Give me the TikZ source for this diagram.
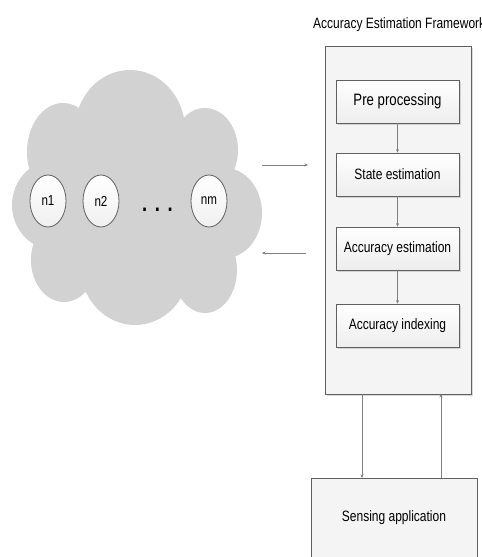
\documentclass[tikz,border=0pt]{standalone}
\usepackage{fontspec}
\setmainfont[FakeStretch=0.8]{Liberation Sans}
\usetikzlibrary{arrows.meta,shadows,shapes.geometric}
\definecolor{cloudgray}{HTML}{D2D2D2}
\definecolor{edgegray}{HTML}{606060}
\definecolor{linegray}{HTML}{808080}
\tikzset{
  stepbox/.style={draw=edgegray, line width=0.8pt, top color=white, bottom color=gray!14,
    minimum width=123pt, minimum height=43pt, inner sep=0pt,
    font=\fontsize{15}{15}\selectfont,
    drop shadow={shadow xshift=2pt, shadow yshift=-2pt, fill=gray!35, opacity=1}},
  framebox/.style={draw=edgegray, line width=0.8pt, fill=gray!9, inner sep=0pt,
    drop shadow={shadow xshift=2pt, shadow yshift=-2pt, fill=gray!30, opacity=1}},
  appbox/.style={draw=edgegray, line width=0.8pt, fill=gray!9, inner sep=0pt,
    font=\fontsize{15}{15}\selectfont},
  sensor/.style={ellipse, draw=edgegray, line width=0.8pt, top color=white, bottom color=gray!12,
    minimum width=36pt, minimum height=52pt, inner sep=0pt, font=\fontsize{14.5}{14.5}\selectfont},
  conn/.style={draw=linegray, line width=0.6pt, -{Stealth[length=3.5pt,width=3pt]}},
  blob/.style={fill=cloudgray, draw=none}
}
\begin{document}
\begin{tikzpicture}[x=1pt,y=-1pt]
\useasboundingbox (0,0) rectangle (482,557);
% cloud
\fill[blob] (130,130) ellipse [x radius=55, y radius=60];
\fill[blob] (63,152) ellipse [x radius=36, y radius=49];
\fill[blob] (55,205) ellipse [x radius=43, y radius=45];
\fill[blob] (64,260) ellipse [x radius=33, y radius=42];
\fill[blob] (135,265) ellipse [x radius=55, y radius=60];
\fill[blob] (205,270) ellipse [x radius=32, y radius=43];
\fill[blob] (225,213) ellipse [x radius=37, y radius=45];
\fill[blob] (205,150) ellipse [x radius=33, y radius=42];
\fill[blob] (135,200) ellipse [x radius=100, y radius=90];
% sensor nodes
\node[sensor] (n1) at (48,201) {n1};
\node[sensor] (n2) at (101,201) {n2};
\node[sensor] (nm) at (209,201) {nm};
\node[inner sep=0pt, font=\fontsize{23}{23}\selectfont\bfseries, anchor=base] (dots) at (157.5,211) {.\,\,.\,\,.};
% framework
\node[anchor=base west, inner sep=0pt, font=\fontsize{15}{15}\selectfont] (title) at (313,28) {Accuracy Estimation Framework};
\node[framebox, minimum width=146pt, minimum height=348pt] (frame) at (398,220) {};
\node[stepbox, font=\fontsize{16.5}{16.5}\selectfont] (pre) at (397.5,101.5) {Pre processing};
\node[stepbox] (state) at (397.5,174.5) {State estimation};
\node[stepbox] (acc) at (397.5,248.5) {Accuracy estimation};
\node[stepbox] (idx) at (397.5,325.5) {Accuracy indexing};
\draw[conn] (pre.south) -- (state.north);
\draw[conn] (state.south) -- (acc.north);
\draw[conn] (acc.south) -- (idx.north);
% cloud <-> framework
\coordinate (ca) at (262,165);
\coordinate (fa) at (308,165);
\coordinate (cb) at (262,253);
\coordinate (fb) at (306,253);
\draw[conn] (ca) -- (fa);
\draw[conn] (fb) -- (cb);
% sensing application
\node[appbox, minimum width=166pt, minimum height=80pt] (app) at (394,518) {Sensing application};
\coordinate (d1) at (362,394);
\coordinate (d2) at (362,478);
\coordinate (u1) at (441,478);
\coordinate (u2) at (441,394);
\draw[conn] (d1) -- (d2);
\draw[conn] (u1) -- (u2);
\end{tikzpicture}
\end{document}
